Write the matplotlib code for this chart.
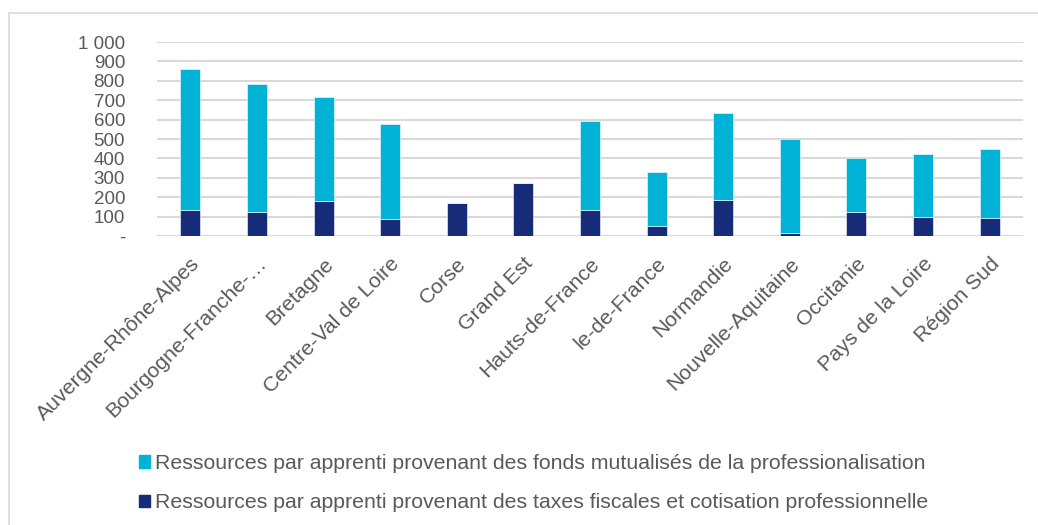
import matplotlib
matplotlib.use('Agg')
import matplotlib.pyplot as plt
from matplotlib.patches import Patch, Rectangle
import numpy as np

regions = ['Auvergne-Rhône-Alpes', 'Bourgogne-Franche-…', 'Bretagne', 'Centre-Val de Loire',
           'Corse', 'Grand Est', 'Hauts-de-France', 'le-de-France', 'Normandie',
           'Nouvelle-Aquitaine', 'Occitanie', 'Pays de la Loire', 'Région Sud']
taxes = [132, 124, 182, 86, 168, 271, 136, 53, 187, 14, 125, 98, 94]
fonds = [727, 659, 536, 493, 4, 0, 458, 277, 447, 484, 275, 323, 354]
yticks = [0, 100, 200, 300, 400, 500, 600, 700, 800, 900, 1000]
ylabels = ['-', '100', '200', '300', '400', '500', '600', '700', '800', '900', '1 000']

lab_fonds = 'Ressources par apprenti provenant des fonds mutualisés de la professionalisation'
lab_taxes = 'Ressources par apprenti provenant des taxes fiscales et cotisation professionnelle'

plt.rcParams['font.family'] = ['Liberation Sans', 'DejaVu Sans']
grey = '#595959'
cyan = '#00B2D6'
navy = '#172C79'

fig = plt.figure(figsize=(10.38, 5.25), dpi=100)
ax = fig.add_axes([157 / 1038, 1 - 236 / 525, (1023 - 157) / 1038, (236 - 42) / 525])

x = np.arange(len(regions))
ax.bar(x, taxes, width=0.3, color=navy, edgecolor='white', linewidth=0.4, zorder=3)
ax.bar(x, fonds, width=0.3, bottom=taxes, color=cyan, edgecolor='white', linewidth=0.4, zorder=3)

ax.set_xlim(-0.5, len(regions) - 0.5)
ax.set_ylim(0, 1000)
ax.set_yticks(yticks)
ax.set_yticklabels(ylabels, fontsize=13.5, color=grey)
ax.set_xticks(x)
ax.set_xticklabels(regions, rotation=45, ha='right', rotation_mode='anchor',
                   fontsize=15.3, color=grey)
ax.tick_params(axis='y', length=0, pad=23)
ax.tick_params(axis='x', length=0, pad=13)
ax.yaxis.grid(True, color='#d9d9d9', linewidth=1.5, zorder=0)
for s in ax.spines.values():
    s.set_visible(False)

handles = [Patch(color=cyan, label=lab_fonds), Patch(color=navy, label=lab_taxes)]
fig.legend(handles=handles, loc='upper left', bbox_to_anchor=(120 / 1038, 1 - 435 / 525),
           frameon=False, fontsize=15.3, labelcolor=grey, handlelength=0.52,
           handleheight=0.52, handletextpad=0.25, labelspacing=0.95)

fig.patches.append(Rectangle((9 / 1038, -0.05), 1.1, 1 - 13 / 525 + 0.05,
                             transform=fig.transFigure, fill=False,
                             edgecolor='#d9d9d9', linewidth=1.2))

fig.savefig('out.png', dpi=100)
